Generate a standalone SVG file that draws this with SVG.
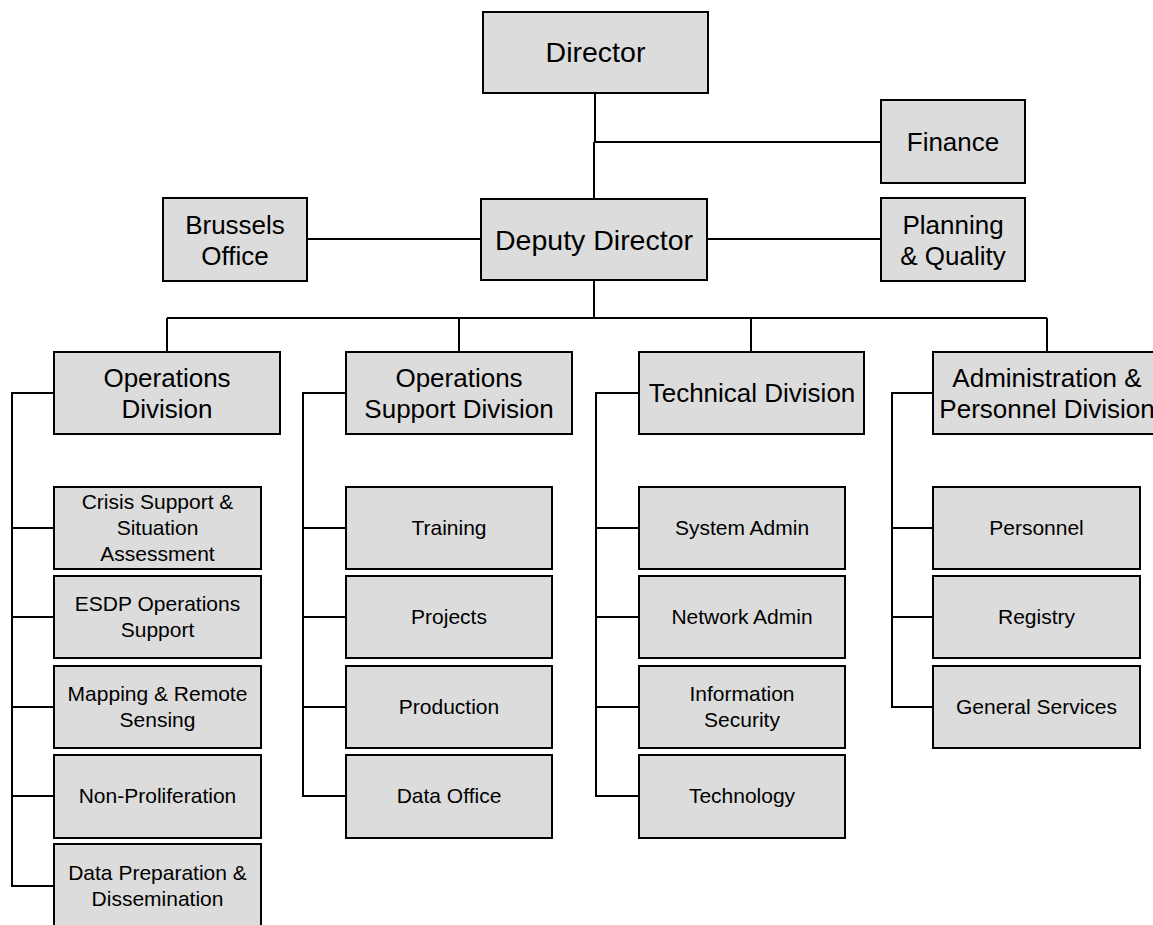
<svg xmlns="http://www.w3.org/2000/svg" width="1153" height="925" viewBox="0 0 1153 925">
<style>
.box{fill:#dcdcdc;stroke:#000;stroke-width:2}
.big{font-family:"Liberation Sans",Arial,sans-serif;font-size:26px;fill:#000;text-anchor:middle}
.top{font-size:28.5px}
.sm{font-family:"Liberation Sans",Arial,sans-serif;font-size:21px;fill:#000;text-anchor:middle}
.ln{fill:none;stroke:#000;stroke-width:2}
</style>
<rect width="1153" height="925" fill="#fff"/>
<g id="connectors" class="ln">
<path d="M595 93V142M594 142V199M595 142H881"/>
<path d="M307 239H481M707 239H881"/>
<path d="M594 280V318M167 318H1047M167 318V352M459 318V352M751 318V352M1047 318V352"/>
<path d="M54 393H12V886H54M12 528H54M12 617H54M12 707H54M12 796H54"/>
<path d="M346 393H303V796H346M303 528H346M303 617H346M303 707H346"/>
<path d="M639 393H596V796H639M596 528H639M596 617H639M596 707H639"/>
<path d="M933 393H892V707H933M892 528H933M892 617H933"/>
</g>
<g id="director"><rect class="box" x="483" y="12" width="225" height="81"/><text class="big top" x="595.5" y="62">Director</text></g>
<g id="finance"><rect class="box" x="881" y="100" width="144" height="83"/><text class="big" x="953" y="151">Finance</text></g>
<g id="brussels"><rect class="box" x="163" y="198" width="144" height="83"/><text class="big" x="235" y="234">Brussels</text><text class="big" x="235" y="265">Office</text></g>
<g id="deputy"><rect class="box" x="481" y="199" width="226" height="81"/><text class="big top" x="594" y="250">Deputy Director</text></g>
<g id="planning"><rect class="box" x="881" y="198" width="144" height="83"/><text class="big" x="953" y="234">Planning</text><text class="big" x="953" y="265">&amp; Quality</text></g>
<g id="ops-div"><rect class="box" x="54" y="352" width="226" height="82"/><text class="big" x="167" y="387">Operations</text><text class="big" x="167" y="418">Division</text></g>
<g id="ops-support-div"><rect class="box" x="346" y="352" width="226" height="82"/><text class="big" x="459" y="387">Operations</text><text class="big" x="459" y="418">Support Division</text></g>
<g id="tech-div"><rect class="box" x="639" y="352" width="225" height="82"/><text class="big" x="752" y="402">Technical Division</text></g>
<g id="admin-div"><rect class="box" x="933" y="352" width="228" height="82"/><text class="big" x="1047" y="387">Administration &amp;</text><text class="big" x="1047" y="418">Personnel Division</text></g>
<g id="crisis"><rect class="box" x="54" y="487" width="207" height="82"/><text class="sm" x="157.5" y="509">Crisis Support &amp;</text><text class="sm" x="157.5" y="535">Situation</text><text class="sm" x="157.5" y="561">Assessment</text></g>
<g id="esdp"><rect class="box" x="54" y="576" width="207" height="82"/><text class="sm" x="157.5" y="611">ESDP Operations</text><text class="sm" x="157.5" y="637">Support</text></g>
<g id="mapping"><rect class="box" x="54" y="666" width="207" height="82"/><text class="sm" x="157.5" y="701">Mapping &amp; Remote</text><text class="sm" x="157.5" y="727">Sensing</text></g>
<g id="nonprolif"><rect class="box" x="54" y="755" width="207" height="83"/><text class="sm" x="157.5" y="803">Non-Proliferation</text></g>
<g id="dataprep"><rect class="box" x="54" y="844" width="207" height="84"/><text class="sm" x="157.5" y="880">Data Preparation &amp;</text><text class="sm" x="157.5" y="906">Dissemination</text></g>
<g id="training"><rect class="box" x="346" y="487" width="206" height="82"/><text class="sm" x="449" y="535">Training</text></g>
<g id="projects"><rect class="box" x="346" y="576" width="206" height="82"/><text class="sm" x="449" y="624">Projects</text></g>
<g id="production"><rect class="box" x="346" y="666" width="206" height="82"/><text class="sm" x="449" y="714">Production</text></g>
<g id="dataoffice"><rect class="box" x="346" y="755" width="206" height="83"/><text class="sm" x="449" y="803">Data Office</text></g>
<g id="sysadmin"><rect class="box" x="639" y="487" width="206" height="82"/><text class="sm" x="742" y="535">System Admin</text></g>
<g id="netadmin"><rect class="box" x="639" y="576" width="206" height="82"/><text class="sm" x="742" y="624">Network Admin</text></g>
<g id="infosec"><rect class="box" x="639" y="666" width="206" height="82"/><text class="sm" x="742" y="701">Information</text><text class="sm" x="742" y="727">Security</text></g>
<g id="technology"><rect class="box" x="639" y="755" width="206" height="83"/><text class="sm" x="742" y="803">Technology</text></g>
<g id="personnel"><rect class="box" x="933" y="487" width="207" height="82"/><text class="sm" x="1036.5" y="535">Personnel</text></g>
<g id="registry"><rect class="box" x="933" y="576" width="207" height="82"/><text class="sm" x="1036.5" y="624">Registry</text></g>
<g id="general"><rect class="box" x="933" y="666" width="207" height="82"/><text class="sm" x="1036.5" y="714">General Services</text></g>
</svg>
